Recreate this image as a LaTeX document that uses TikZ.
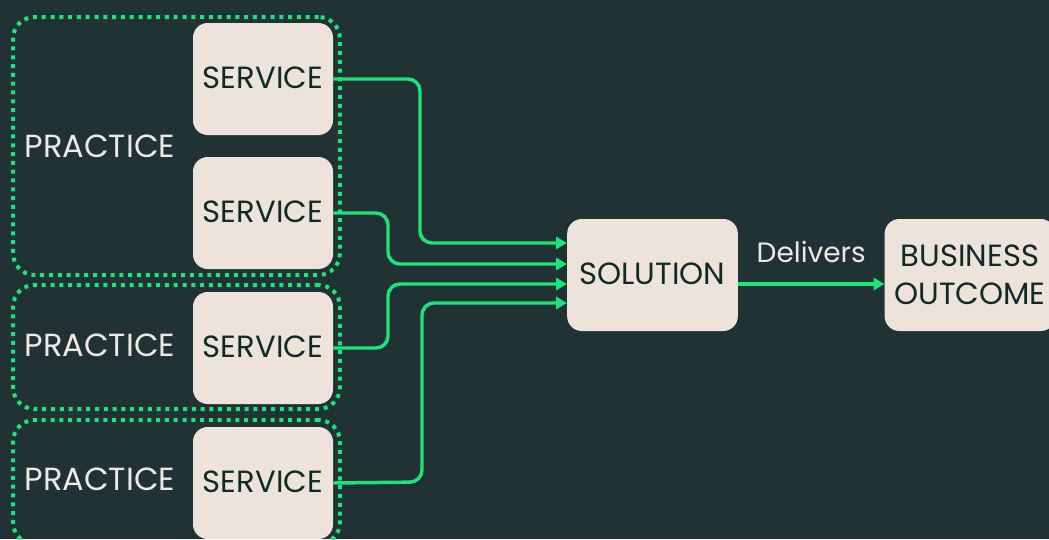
\documentclass[tikz,border=0pt]{standalone}
\usepackage{fontspec}
\setmainfont{Poppins}
\usetikzlibrary{arrows.meta}
\definecolor{bgdark}{HTML}{213235}
\definecolor{flowgreen}{HTML}{1BE57A}
\definecolor{boxfill}{HTML}{EDE3DA}
\definecolor{boxtext}{HTML}{0F2B28}
\definecolor{lighttext}{HTML}{EFE9E3}
\tikzset{
  card/.style={fill=boxfill, rounded corners=11pt, text=boxtext, align=center,
    font=\fontsize{23}{28.5}\selectfont, inner sep=0pt},
  service/.style={card, minimum width=105pt, minimum height=84pt},
  bigcard/.style={card, minimum width=128pt, minimum height=84pt},
  group/.style={draw=flowgreen, line width=3pt, dash pattern=on 3pt off 3.6pt,
    rounded corners=16pt, minimum width=245pt, inner sep=0pt},
  label/.style={text=lighttext, font=\fontsize{24}{28}\selectfont, inner sep=0pt},
  flow/.style={draw=flowgreen, line width=2.6pt, rounded corners=9pt,
    -{Triangle[length=8pt,width=9pt]}}
}
\newcommand{\cardtext}[1]{\raisebox{2pt}{#1}}
\begin{document}
\begin{tikzpicture}[x=0.75pt, y=-0.75pt]
  \fill[bgdark] (0,0) rectangle (1049,539);
  \useasboundingbox (0,0) rectangle (1049,539);

  % practice groups
  \node[group, minimum height=193.5pt] (g1) at (176.5,146) {};
  \node[group, minimum height=93pt] (g2) at (176.5,347) {};
  \node[group, minimum height=93pt] (g3) at (176.5,482) {};

  \node[label] (p1) at (100,146) {PRACTICE};
  \node[label] (p2) at (100,345) {PRACTICE};
  \node[label] (p3) at (100,479) {PRACTICE};

  % services
  \node[service] (s1) at (263,79) {\cardtext{SERVICE}};
  \node[service] (s2) at (263,213) {\cardtext{SERVICE}};
  \node[service] (s3) at (263,348) {\cardtext{SERVICE}};
  \node[service] (s4) at (263,483) {\cardtext{SERVICE}};

  % solution and outcome
  \node[bigcard] (sol) at (652.5,275) {\cardtext{SOLUTION}};
  \node[bigcard] (out) at (970,275) {BUSINESS\\OUTCOME};

  % services feed the solution
  \draw[flow] (s1.east) -- (420,79) -- (420,243) -- (sol.west |- 0,243);
  \draw[flow] (s2.east) -- (388,213) -- (388,264) -- (sol.west |- 0,264);
  \draw[flow] (s3.east) -- (388,348) -- (388,284) -- (sol.west |- 0,284);
  \draw[flow] (s4.east) -- (422,482) -- (422,303) -- (sol.west |- 0,303);

  % solution delivers the outcome
  \draw[flow, rounded corners=0pt] (sol.east |- 0,284) -- (out.west |- 0,284)
    node[midway, label, font=\fontsize{21}{25}\selectfont, above=15pt] (dl) {Delivers};
\end{tikzpicture}
\end{document}
